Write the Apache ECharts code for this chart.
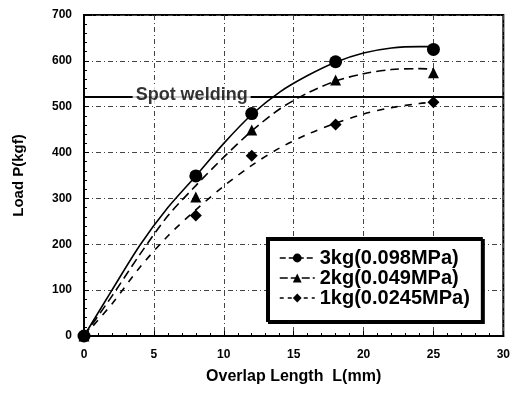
<!DOCTYPE html>
<html>
<head>
<meta charset="utf-8">
<title>Load vs Overlap Length</title>
<script src="https://cdn.jsdelivr.net/npm/echarts@6/dist/echarts.min.js"></script>
<style>
  html, body { margin: 0; padding: 0; background: #fff; }
  #chart { width: 513px; height: 394px; }
</style>
</head>
<body>
<div id="chart"></div>
<script>
// measured points (mm, kgf)
var xPoints = [0, 8, 12, 18, 25];
var pts3kg = [0, 349, 485, 598, 625];
var pts2kg = [0, 303, 449, 558, 574];
var pts1kg = [0, 263, 393, 461, 510];

// fitted curves
var xCurve = [0, 2, 4, 6, 8, 10, 12, 14, 16, 18, 20, 22, 24, 25];
var curve3kg = [0, 100, 198, 280, 349, 420, 483, 532, 568, 597, 617, 628, 631, 631];
var curve2kg = [0, 87, 178, 262, 328, 390, 447, 495, 530, 556, 572, 581, 583, 582];
var curve1kg = [0, 70, 150, 218, 275, 327, 372, 410, 440, 464, 484, 498, 507, 510];

var seriesNames = ['3kg(0.098MPa)', '2kg(0.049MPa)', '1kg(0.0245MPa)'];
var spotWelding = 521;

function pairs(xs, ys) {
  return xs.map(function (x, i) { return [x, ys[i]]; });
}

var fontName = '"Liberation Sans", Arial, sans-serif';
var gridDash = { color: '#444', width: 1, type: [5, 3, 1, 3] };

var myChart = echarts.init(document.getElementById('chart'), null, { renderer: 'canvas' });

var option = {
  animation: false,
  backgroundColor: '#fff',
  textStyle: { fontFamily: fontName, color: '#000' },
  grid: {
    left: 84, right: 8, top: 15, bottom: 58,
    show: true, borderColor: '#000', borderWidth: 2
  },
  legend: {
    orient: 'vertical',
    left: 267, top: 238,
    padding: [10, 12, 13, 12],
    itemWidth: 35, itemHeight: 11, itemGap: 0,
    backgroundColor: '#fff',
    borderColor: '#000', borderWidth: 2,
    shadowColor: '#000', shadowBlur: 0, shadowOffsetX: 2, shadowOffsetY: 2,
    textStyle: { fontSize: 20, fontWeight: 'bold', color: '#000', lineHeight: 20, fontFamily: fontName },
    data: [
      { name: seriesNames[0], lineStyle: { opacity: 1, type: [6, 3], width: 1.5, color: '#000' } },
      { name: seriesNames[1], lineStyle: { opacity: 1, type: [8, 3], width: 1.5, color: '#000' } },
      { name: seriesNames[2], lineStyle: { opacity: 1, type: [4, 4], width: 1.5, color: '#000' } }
    ]
  },
  xAxis: {
    type: 'value',
    min: 0, max: 30, interval: 5,
    name: 'Overlap Length  L(mm)',
    nameLocation: 'middle',
    nameGap: 33,
    nameTextStyle: { fontSize: 16, fontWeight: 'bold', color: '#000' },
    axisLine: { lineStyle: { color: '#000', width: 2 } },
    axisTick: { inside: true, length: 5, lineStyle: { color: '#000' } },
    minorTick: { show: true, splitNumber: 5, length: 3, lineStyle: { color: '#000' } },
    axisLabel: { margin: 13, fontSize: 12, fontWeight: 'bold', color: '#000' },
    splitLine: { show: true, lineStyle: gridDash }
  },
  yAxis: {
    type: 'value',
    min: 0, max: 700, interval: 100,
    name: 'Load P(kgf)',
    nameLocation: 'middle',
    nameGap: 58,
    nameTextStyle: { fontSize: 15, fontWeight: 'bold', color: '#000' },
    axisLine: { show: true, lineStyle: { color: '#000', width: 2 } },
    axisTick: { show: true, inside: true, length: 5, lineStyle: { color: '#000' } },
    minorTick: { show: true, splitNumber: 5, length: 3, lineStyle: { color: '#000' } },
    axisLabel: { margin: 12, fontSize: 12, fontWeight: 'bold', color: '#000' },
    splitLine: { show: true, lineStyle: gridDash }
  },
  series: [
    // fitted curves
    {
      name: '3kg fit', type: 'line', smooth: 0.3, symbol: 'none', z: 3,
      data: pairs(xCurve, curve3kg),
      lineStyle: { color: '#000', width: 1.6, type: 'solid' }
    },
    {
      name: '2kg fit', type: 'line', smooth: 0.3, symbol: 'none', z: 3,
      data: pairs(xCurve, curve2kg),
      lineStyle: { color: '#000', width: 1.6, type: [9, 5] }
    },
    {
      name: '1kg fit', type: 'line', smooth: 0.3, symbol: 'none', z: 3,
      data: pairs(xCurve, curve1kg),
      lineStyle: { color: '#000', width: 1.6, type: [7, 7] }
    },
    // measured points
    {
      name: seriesNames[0], type: 'line', symbol: 'circle', symbolSize: 13, z: 5,
      data: pairs(xPoints, pts3kg),
      itemStyle: { color: '#000' },
      lineStyle: { opacity: 0 }
    },
    {
      name: seriesNames[1], type: 'line', symbol: 'triangle', symbolSize: 11, z: 5,
      data: pairs(xPoints, pts2kg),
      itemStyle: { color: '#000' },
      lineStyle: { opacity: 0 }
    },
    {
      name: seriesNames[2], type: 'line', symbol: 'diamond', symbolSize: 12, z: 5,
      data: pairs(xPoints, pts1kg),
      itemStyle: { color: '#000' },
      lineStyle: { opacity: 0 }
    },
    // spot welding reference line + label
    {
      name: 'Spot welding', type: 'scatter', symbolSize: 0, z: 6,
      data: [[7.7, spotWelding + 4]],
      label: {
        show: true, position: 'inside', formatter: 'Spot welding',
        fontSize: 18, fontWeight: 'bold', color: '#000',
        backgroundColor: '#fff', padding: [0, 3]
      },
      markLine: {
        silent: true, symbol: 'none', z: 4,
        label: { show: false },
        lineStyle: { color: '#000', width: 2, type: 'solid' },
        data: [{ yAxis: spotWelding }]
      }
    }
  ]
};

myChart.setOption(option);
window.addEventListener('resize', function () {
  myChart.resize();
});
</script>
</body>
</html>
